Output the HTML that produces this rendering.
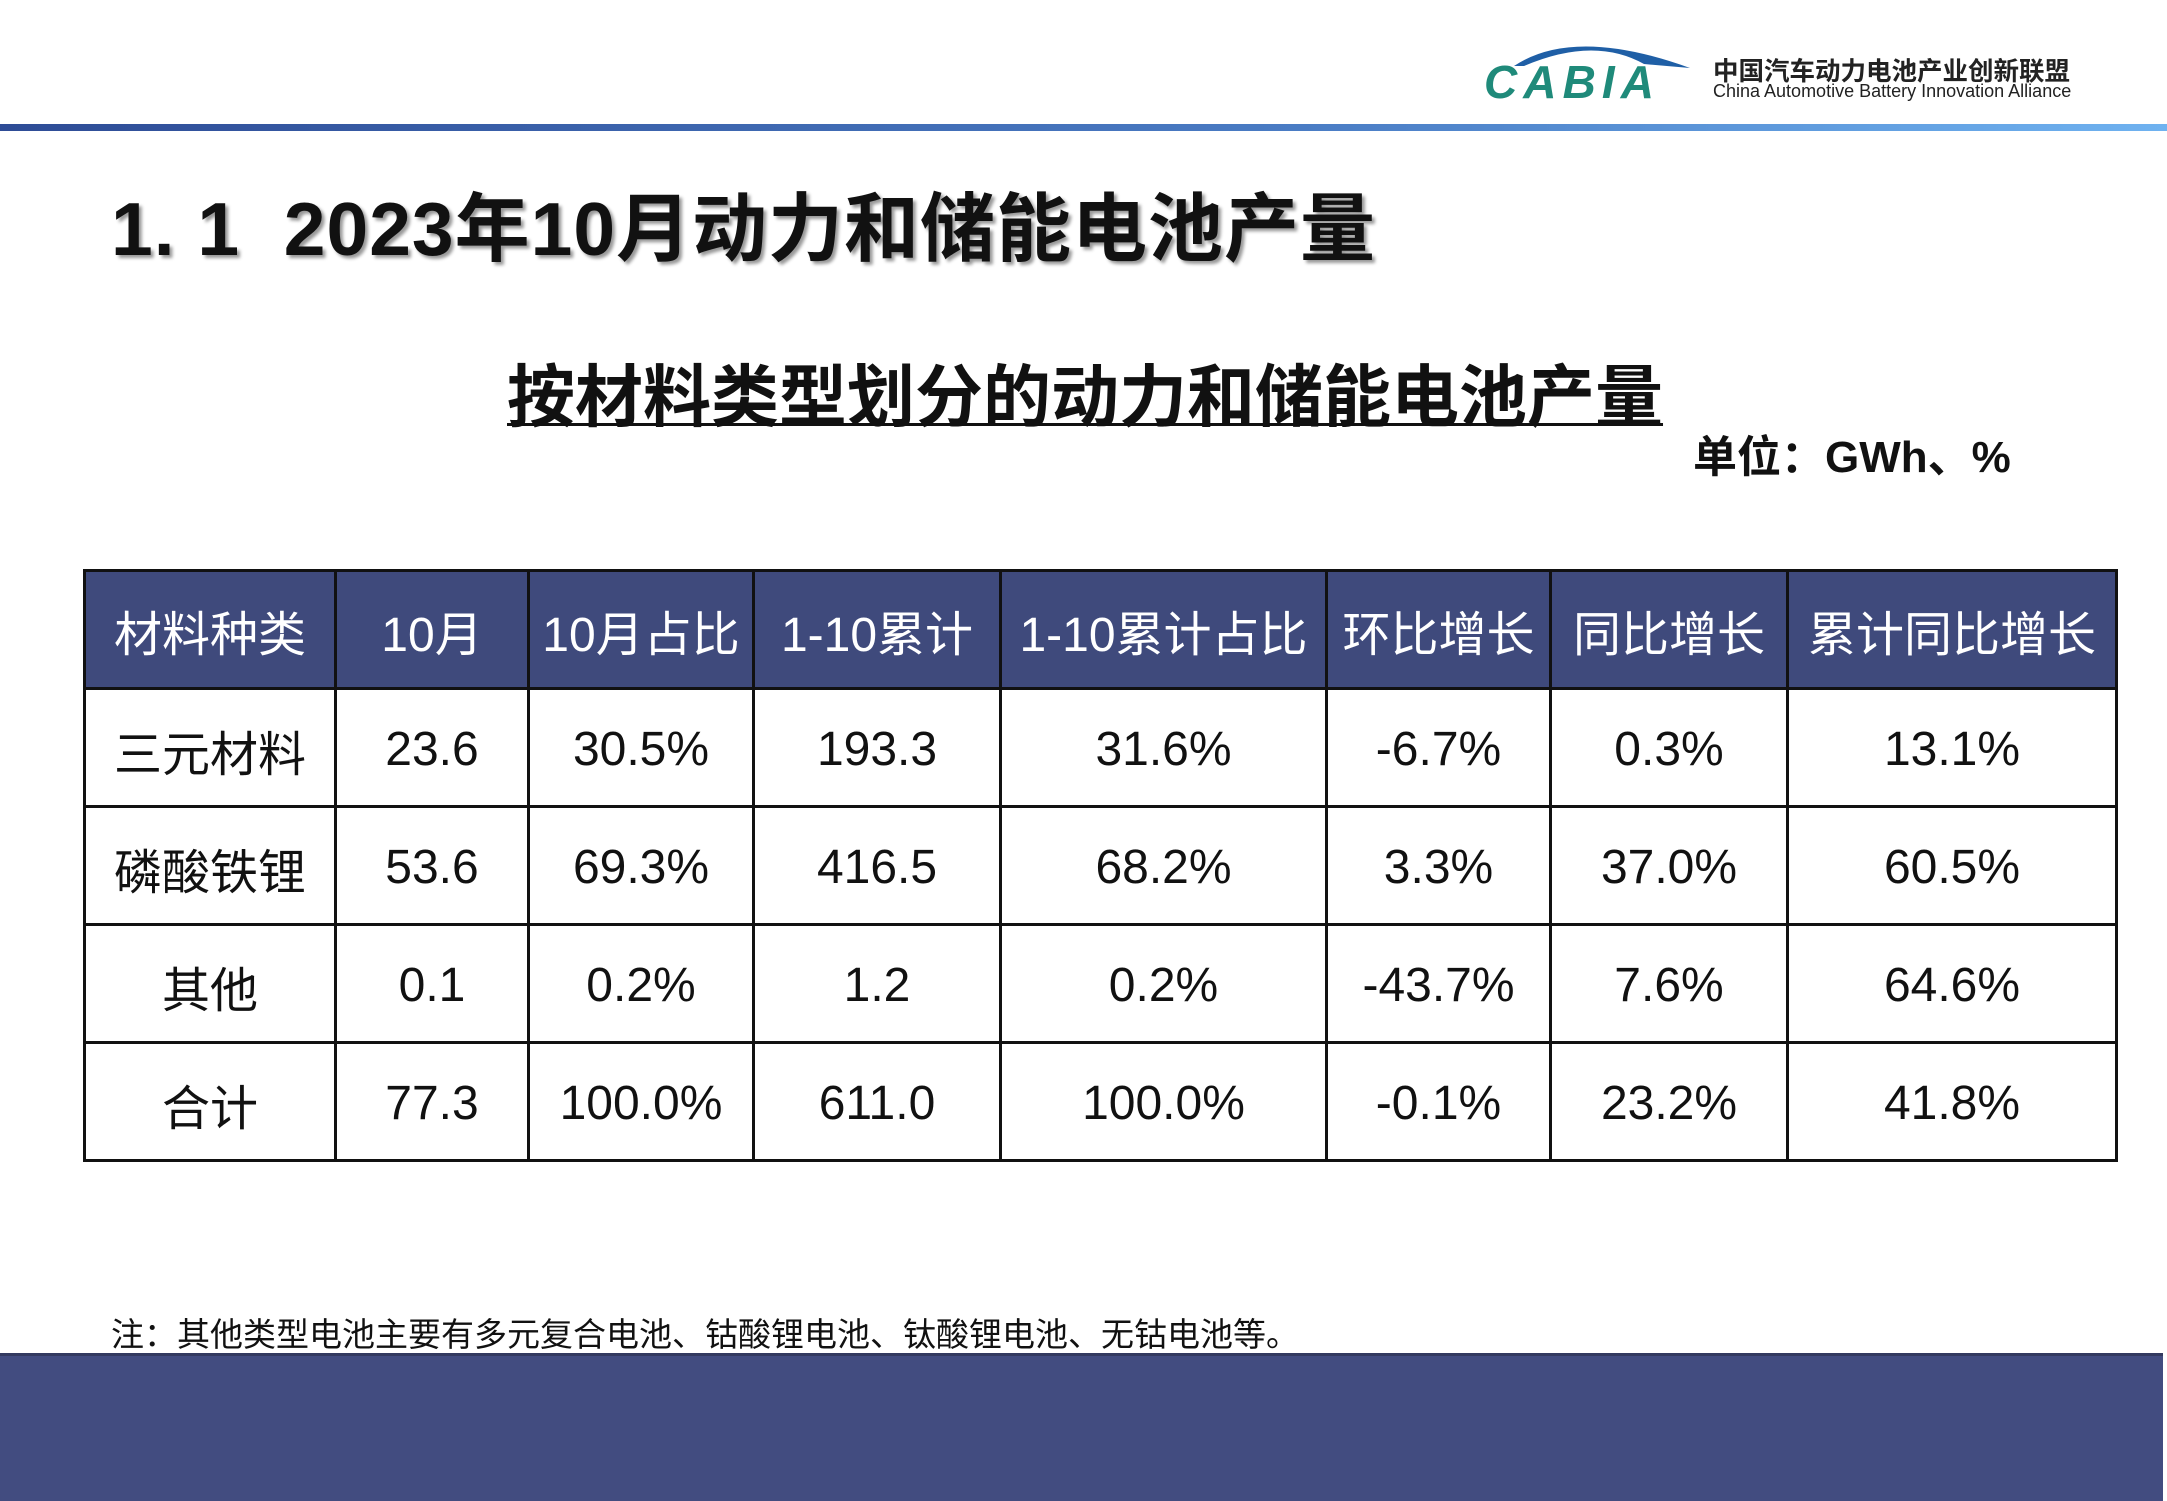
<!DOCTYPE html>
<html><head><meta charset="utf-8">
<style>
body{margin:0;width:2167px;height:1500px;position:relative;background:#fff;overflow:hidden;font-family:"Liberation Sans","Noto Sans CJK SC",sans-serif;}
.abs{position:absolute;}
table{border-collapse:collapse;position:absolute;left:83px;top:569px;table-layout:fixed;}
td,th{border:3px solid #111;text-align:center;padding:0;font-size:48px;}
th{background:#3f4a7c;color:#fff;font-weight:normal;height:115px;white-space:nowrap;}
td{height:111px;color:#111;padding-top:4px;}
</style></head><body>
<div class="abs" style="left:1484px;top:36px;width:210px;height:66px;">
<svg width="210" height="66" viewBox="0 0 210 66"><path d="M30 30 Q90 -10 206 32 L160 28 Q110 0 40 30 Z" fill="#1f5fa6"/><text x="0" y="62" font-family="Liberation Sans" font-style="italic" font-weight="bold" font-size="46" fill="#1f8a7a" textLength="170">CABIA</text></svg></div>
<div class="abs" style="left:1713px;top:51px;font-size:25.5px;font-weight:bold;color:#222;">中国汽车动力电池产业创新联盟</div>
<div class="abs" style="left:1713px;top:81px;font-size:18px;color:#222;white-space:nowrap;">China Automotive Battery Innovation Alliance</div>
<div class="abs" style="left:0;top:124px;width:2167px;height:7px;background:linear-gradient(90deg,#2e4c96,#4a7cc4 60%,#6fb2f0);"></div>
<div class="abs" style="left:111px;top:168px;font-size:75px;font-weight:bold;color:#111;text-shadow:3px 3px 3px #999;white-space:nowrap;letter-spacing:1px;">1.&nbsp;1&nbsp; 2023年10月动力和储能电池产量</div>
<div class="abs" style="left:507px;top:342px;font-size:68px;font-weight:bold;color:#111;text-decoration:underline;text-decoration-thickness:3px;white-space:nowrap;">按材料类型划分的动力和储能电池产量</div>
<div class="abs" style="left:1693px;top:421px;font-size:44px;font-weight:bold;color:#111;">单位：GWh、%</div>
<table id="tbl"></table>
<div class="abs" style="left:111px;top:1308px;font-size:33px;color:#111;white-space:nowrap;">注：其他类型电池主要有多元复合电池、钴酸锂电池、钛酸锂电池、无钴电池等。</div>
<div class="abs" style="left:0;top:1353px;width:2163px;height:145px;background:#424c80;border-top:3px solid #333a60;"></div>
<script>
const headers=["材料种类","10月","10月占比","1-10累计","1-10累计占比","环比增长","同比增长","累计同比增长"];
const materials=["三元材料","磷酸铁锂","其他","合计"];
const octValues=["23.6","53.6","0.1","77.3"];
const octShare=["30.5%","69.3%","0.2%","100.0%"];
const ytdValues=["193.3","416.5","1.2","611.0"];
const ytdShare=["31.6%","68.2%","0.2%","100.0%"];
const momGrowth=["-6.7%","3.3%","-43.7%","-0.1%"];
const yoyGrowth=["0.3%","37.0%","7.6%","23.2%"];
const ytdYoy=["13.1%","60.5%","64.6%","41.8%"];
const widths=[251,193,225,247,326,224,237,329];
const t=document.getElementById('tbl');
const cg=document.createElement('colgroup');
widths.forEach(w=>{const c=document.createElement('col');c.style.width=w+'px';cg.appendChild(c);});
t.appendChild(cg);
const hr=document.createElement('tr');
headers.forEach(h=>{const th=document.createElement('th');th.textContent=h;


hr.appendChild(th);});
t.appendChild(hr);
const cols=[materials,octValues,octShare,ytdValues,ytdShare,momGrowth,yoyGrowth,ytdYoy];
materials.forEach((m,i)=>{const tr=document.createElement('tr');


cols.forEach(c=>{const td=document.createElement('td');td.textContent=c[i];


tr.appendChild(td);});
t.appendChild(tr);});
</script>
</body></html>
